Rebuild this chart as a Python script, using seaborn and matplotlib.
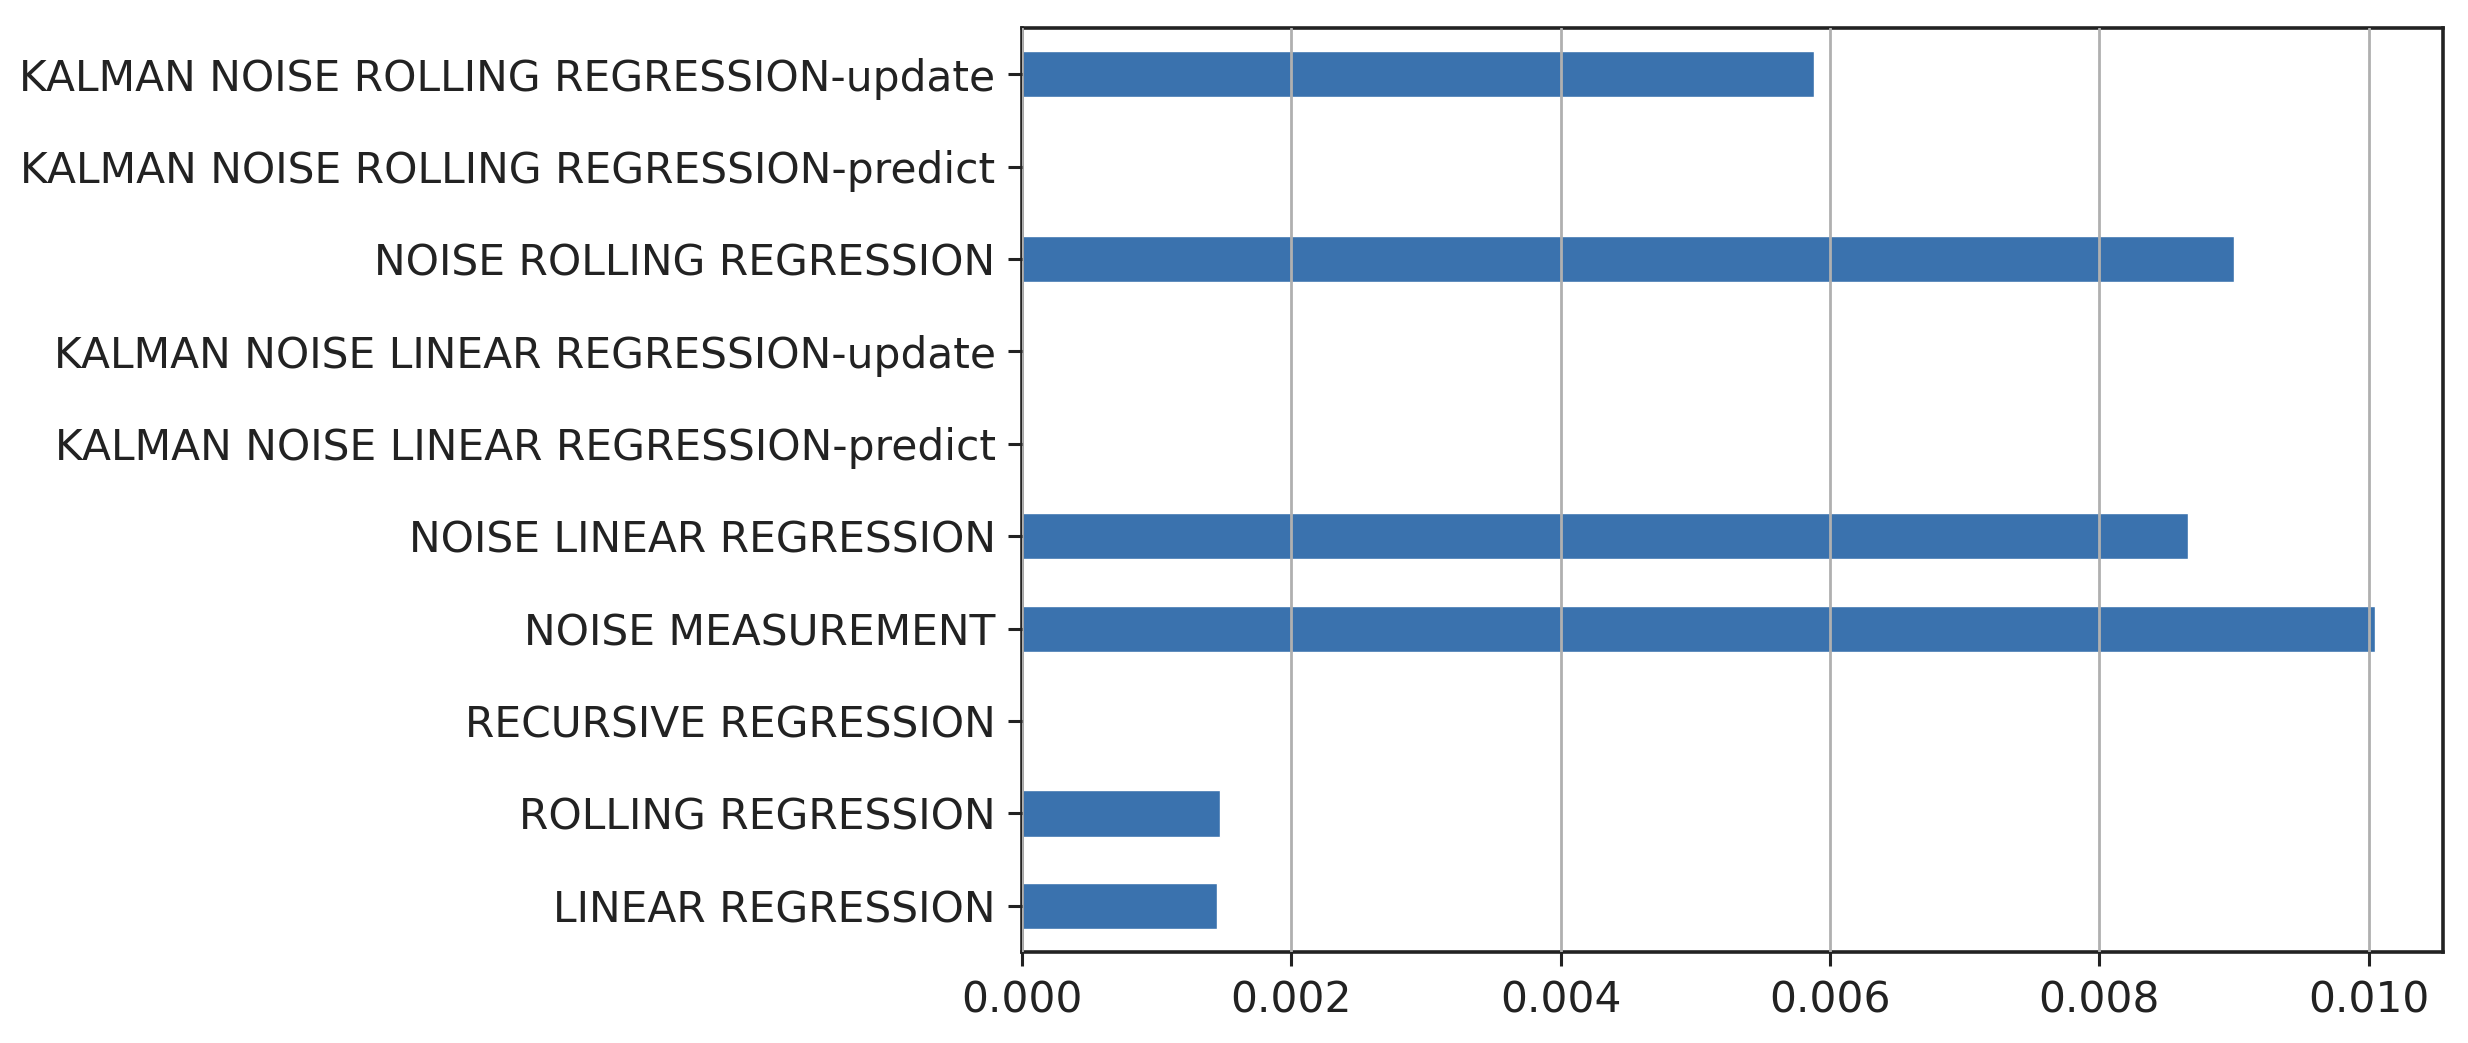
import matplotlib
matplotlib.use("Agg")
import matplotlib.pyplot as plt
import seaborn as sns
import pandas as pd

categories = [
    "KALMAN NOISE ROLLING REGRESSION-update",
    "KALMAN NOISE ROLLING REGRESSION-predict",
    "NOISE ROLLING REGRESSION",
    "KALMAN NOISE LINEAR REGRESSION-update",
    "KALMAN NOISE LINEAR REGRESSION-predict",
    "NOISE LINEAR REGRESSION",
    "NOISE MEASUREMENT",
    "RECURSIVE REGRESSION",
    "ROLLING REGRESSION",
    "LINEAR REGRESSION",
]
values = [0.00588, 0.0, 0.00900, 0.0, 0.0, 0.00866, 0.01005, 0.0, 0.00147, 0.00145]
xticks = [0.000, 0.002, 0.004, 0.006, 0.008, 0.010]
xtick_labels = ["0.000", "0.002", "0.004", "0.006", "0.008", "0.010"]

df = pd.DataFrame({"name": categories, "value": values})

sns.set_theme(style="white")
plt.rcParams["font.family"] = ["DejaVu Sans"]

fig = plt.figure(figsize=(24.68, 10.43), dpi=100)
ax = fig.add_axes([1022 / 2468, 1 - 952 / 1043, (2443 - 1022) / 2468, (952 - 28) / 1043])

sns.barplot(data=df, x="value", y="name", orient="h", order=categories,
            color="#3a72ae", saturation=1, width=0.5, ax=ax, zorder=2)

ax.set_xlim(0, max(values) * 1.05)
ax.set_ylim(len(categories) - 0.5, -0.5)
ax.set_xticks(xticks)
ax.set_xticklabels(xtick_labels)
ax.set_xlabel("")
ax.set_ylabel("")
ax.xaxis.grid(True, color="#b0b0b0", linewidth=2.0, zorder=3)
ax.set_axisbelow(False)
for line in ax.get_xgridlines():
    line.set_zorder(3)
ax.yaxis.grid(False)
for s in ax.spines.values():
    s.set_color("#222222")
    s.set_linewidth(2.6)
    s.set_visible(True)
ax.tick_params(axis="both", which="major", length=10, width=2.2, color="#222222",
               labelsize=30.5, labelcolor="#222222", left=True, bottom=True)
ax.tick_params(axis="y", pad=9)
ax.tick_params(axis="x", pad=10)

fig.savefig("out.png", dpi=100, facecolor="white")
